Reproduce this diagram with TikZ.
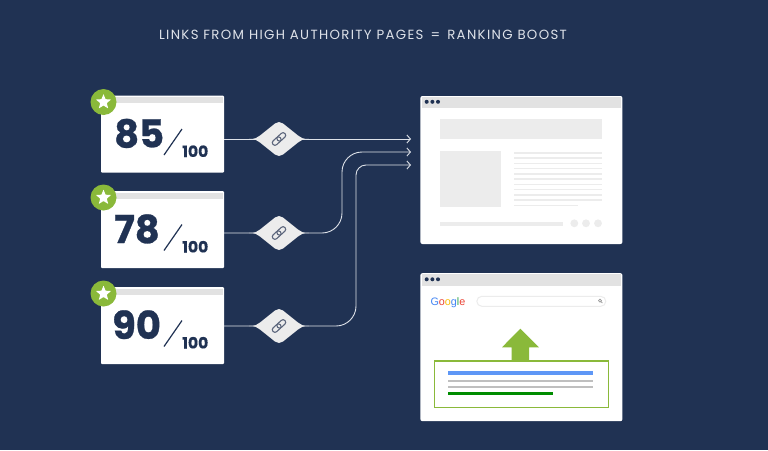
\documentclass[tikz,border=0pt]{standalone}
\usepackage{fontspec}
\setmainfont{Poppins}
\newfontfamily\logofont{Liberation Sans}
\usetikzlibrary{arrows.meta,positioning,calc,shapes.geometric}
\definecolor{pgnavy}{RGB}{32,50,83}
\definecolor{pgvert}{RGB}{138,185,58}
\definecolor{pgbar}{RGB}{226,226,226}
\definecolor{pgblock}{RGB}{236,236,236}
\definecolor{pgwire}{RGB}{222,226,233}
\definecolor{pgicon}{RGB}{92,102,124}
\definecolor{gblue}{RGB}{66,133,244}
\definecolor{gred}{RGB}{234,67,53}
\definecolor{gyellow}{RGB}{251,188,5}
\definecolor{ggreen}{RGB}{52,168,83}

\begin{document}
\begin{tikzpicture}[
  x=1pt, y=-1pt,
  card/.style={rectangle, fill=white, rounded corners=1pt, inner sep=0pt,
    minimum width=123pt, minimum height=77pt},
  page/.style={rectangle, fill=white, rounded corners=2pt, inner sep=0pt,
    minimum width=202pt, minimum height=148pt},
  badge/.style={circle, fill=pgvert, inner sep=0pt, minimum size=26pt},
  starmark/.style={star, star points=5, star point ratio=2.3, fill=white,
    inner sep=0pt, minimum size=16pt, rounded corners=0.5pt},
  score/.style={anchor=base west, inner sep=0pt, pgnavy,
    font=\fontsize{38.5}{38.5}\selectfont\bfseries\addfontfeature{FakeBold=0.7}},
  outof/.style={anchor=base west, inner sep=0pt, pgnavy,
    font=\fontsize{15.5}{15.5}\selectfont\bfseries\addfontfeature{FakeBold=0.4}},
  slash/.style={pgnavy, line width=1.2pt},
  hub/.style={inner sep=0pt, minimum size=2pt},
  wire/.style={pgwire, line width=0.9pt},
  wirein/.style={wire, -{Straight Barb[length=3.5pt,width=8pt,line width=0.9pt]}},
  block/.style={fill=pgblock},
  dot/.style={fill=pgnavy},
  chip/.pic={
    \fill[pgblock] (-30,0) .. controls (-24,0) and (-22,-1) .. (-19,-3.5) -- (-4,-15.5)
      .. controls (-1.5,-17.5) and (1.5,-17.5) .. (4,-15.5) -- (19,-3.5)
      .. controls (22,-1) and (24,0) .. (30,0)
      .. controls (24,0) and (22,1) .. (19,3.5) -- (4,15.5)
      .. controls (1.5,17.5) and (-1.5,17.5) .. (-4,15.5) -- (-19,3.5)
      .. controls (-22,1) and (-24,0) .. (-30,0) -- cycle;
    \node[draw=pgicon, line width=1.1pt, rounded corners=2.5pt, rotate=42, inner sep=0pt,
      minimum width=10pt, minimum height=5.2pt] at (-2.3,2.1) {};
    \node[draw=pgicon, line width=1.1pt, rounded corners=2.5pt, rotate=42, inner sep=0pt,
      minimum width=10pt, minimum height=5.2pt] at (2.3,-2.1) {};
  }
]
  \useasboundingbox (0,0) rectangle (768,450);
  \fill[pgnavy] (0,0) rectangle (768,450);

  % Title
  \node[text=pgwire, font=\fontsize{13.3}{13.3}\selectfont\addfontfeature{LetterSpace=10}] (title) at (363,35)
    {LINKS FROM HIGH AUTHORITY PAGES \,=\, RANKING BOOST};

  % Score cards
  \node[card] (card1) at (162.5,134.2) {};
  \node[card] (card2) at (162.5,229.7) {};
  \node[card] (card3) at (162.5,325.7) {};
  \fill[pgbar] (102,97) rectangle (223,103);
  \fill[pgbar] (102,192.5) rectangle (223,198.5);
  \fill[pgbar] (102,288.5) rectangle (223,294.5);

  \node[badge] (badge1) at (103.5,102) {};
  \node[badge] (badge2) at (103.5,197.5) {};
  \node[badge] (badge3) at (103.5,293.5) {};
  \node[starmark] (star1) at (badge1) {};
  \node[starmark] (star2) at (badge2) {};
  \node[starmark] (star3) at (badge3) {};

  \node[score] (score1) at (114,147.5) {85};
  \node[score] (score2) at (114,243) {78};
  \node[score] (score3) at (112,339) {90};
  \node[outof] (outof1) at (182,157) {100};
  \node[outof] (outof2) at (182,252.5) {100};
  \node[outof] (outof3) at (182,348.5) {100};
  \draw[slash] (164,155) -- (182,129);
  \draw[slash] (164,250.5) -- (182,224.5);
  \draw[slash] (164,346.5) -- (182,320.5);

  % Relations
  \node[hub] (link1) at (279,139) {};
  \node[hub] (link2) at (279,233) {};
  \node[hub] (link3) at (279,326) {};
  \coordinate (in1) at (411,139);
  \coordinate (in2) at (411,152);
  \coordinate (in3) at (411,165);
  \draw[wirein] (card1.east |- link1) -- (in1);
  \draw[wirein, rounded corners=20pt] (card2.east |- link2) -- (342,233) -- (342,152) -- (in2);
  \draw[wirein, rounded corners=20pt] (card3.east |- link3) -- (356,326) [rounded corners=10pt] -- (356,165) -- (in3);
  \pic at (link1) {chip};
  \pic at (link2) {chip};
  \pic at (link3) {chip};

  % Upper page
  \node[page] (page1) at (420.2,95.8) [anchor=north west] {};
  \fill[pgbar] (421.5,97) rectangle (621,108.3);
  \fill[dot] (426.7,101.8) circle (2);
  \fill[dot] (432.4,101.8) circle (2);
  \fill[dot] (438,101.8) circle (2);
  \fill[block] (440,119.3) rectangle (602,139);
  \fill[block] (440,151) rectangle (501,207);
  \draw[pgblock, line width=1.4pt] (514.3,152.8) -- (602,152.8) (514.3,158) -- (602,158)
    (514.3,163.3) -- (602,163.3) (514.3,168.5) -- (602,168.5) (514.3,173.8) -- (602,173.8)
    (514.3,179) -- (602,179) (514.3,184.3) -- (602,184.3) (514.3,189.5) -- (602,189.5)
    (514.3,194.8) -- (602,194.8) (514.3,200) -- (602,200) (514.3,205.3) -- (578,205.3);
  \fill[block] (440,222) rectangle (562.7,225.7);
  \fill[block] (574.3,223.3) circle (3.9);
  \fill[block] (586,223.3) circle (3.9);
  \fill[block] (598,223.3) circle (3.9);

  % Lower page
  \node[page] (page2) at (420.2,273) [anchor=north west] {};
  \fill[pgbar] (421.5,274.3) rectangle (621,286);
  \fill[dot] (426.7,279.3) circle (2);
  \fill[dot] (432.4,279.3) circle (2);
  \fill[dot] (438,279.3) circle (2);
  \node[anchor=base west, inner sep=0pt, font=\logofont\fontsize{10.8}{10.8}\selectfont] (google) at (430.3,305)
    {\textcolor{gblue}{G}\textcolor{gred}{o}\textcolor{gyellow}{o}\textcolor{gblue}{g}\textcolor{ggreen}{l}\textcolor{gred}{e}};
  \node[draw=pgblock, line width=1pt, rounded corners=5pt, inner sep=0pt,
    minimum width=129pt, minimum height=10pt] (search) at (541.3,301.3) {};
  \draw[gray!80, line width=0.7pt] (600,300.6) circle (1.5) (601.1,301.7) -- (602.4,303);
  \draw[pgvert, line width=1.9pt] (434.5,361) rectangle (608.5,407.5);
  \fill[pgvert] (520.3,328.7) -- (539,347.3) -- (529,347.3) -- (529,360.5)
    -- (511.7,360.5) -- (511.7,347.3) -- (502,347.3) -- cycle;
  \fill[gblue!85!white] (447.7,371.2) rectangle (592.7,375);
  \fill[gray!50] (447.7,379.6) rectangle (592.7,382.2);
  \fill[gray!50] (447.7,385.6) rectangle (592.7,388.2);
  \fill[green!55!black] (447.7,392.4) rectangle (553,395);
\end{tikzpicture}
\end{document}
